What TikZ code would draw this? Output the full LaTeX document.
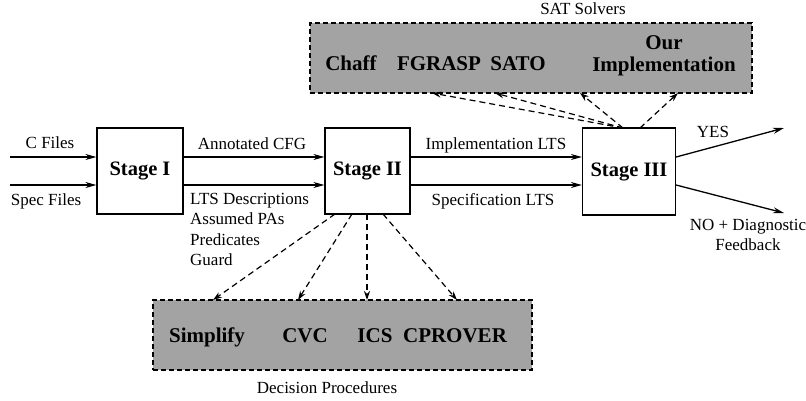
\documentclass[tikz,border=0pt]{standalone}
\usepackage{fontspec}
\setmainfont{Liberation Serif}
\usetikzlibrary{arrows.meta}
\newcommand\lblf{\fontsize{17}{20.5}\selectfont}
\newcommand\stgf{\fontsize{20.5}{24}\selectfont\bfseries}
\newcommand\toolf{\fontsize{21}{22}\selectfont\bfseries}
\tikzset{
  stagebox/.style={draw, line width=1.2pt, fill=white, inner sep=0pt, font=\stgf},
  toolbox/.style={draw, line width=1.2pt, dash pattern=on 5pt off 3pt, fill=black!36, inner sep=0pt},
  tool/.style={font=\toolf, anchor=base, inner sep=0pt},
  lbl/.style={font=\lblf, inner sep=0pt},
  flow/.style={line width=1.3pt, -{Stealth[length=11pt,width=6pt]}},
  dflow/.style={line width=1.2pt, dash pattern=on 6pt off 4pt, -{Stealth[length=9pt,width=6pt]}},
  dflowo/.style={line width=1.2pt, dash pattern=on 6pt off 4pt, -{Stealth[length=9pt,width=6pt,open]}}
}
\begin{document}
\begin{tikzpicture}[x=1pt,y=-1pt]
\useasboundingbox (0,0) rectangle (806,400);
% tool boxes
\node[toolbox, minimum width=442pt, minimum height=70pt] (sat) at (531,58) {};
\node[toolbox, minimum width=379pt, minimum height=70pt] (dp) at (342.5,335) {};
% stages
\node[stagebox, minimum width=86pt, minimum height=86pt] (s1) at (140,171) {Stage I};
\node[stagebox, minimum width=85pt, minimum height=86pt] (s2) at (367.5,171) {Stage II};
\node[stagebox, minimum width=93pt, minimum height=87pt] (s3) at (629,171.5) {Stage III};
% SAT tools
\node[tool] (chaff) at (351,70) {Chaff};
\node[tool] (fgrasp) at (439,70) {FGRASP};
\node[tool] (sato) at (518,70) {SATO};
\node[font=\toolf, align=center, inner sep=0pt] (ours) at (664,56) {Our\\Implementation};
\node[lbl] (satl) at (583,9) {SAT Solvers};
% decision procedures
\node[tool] (simp) at (207,342) {Simplify};
\node[tool] (cvc) at (305,342) {CVC};
\node[tool] (ics) at (375,342) {ICS};
\node[tool] (cprover) at (455,342) {CPROVER};
\node[lbl] (dpl) at (327,388) {Decision Procedures};
% inputs
\coordinate (cin) at (10,157);
\coordinate (sin) at (10,185);
\draw[flow] (cin) -- (cin -| s1.west);
\draw[flow] (sin) -- (sin -| s1.west);
\node[lbl] (cfl) at (50,143) {C Files};
\node[lbl] (sfl) at (46,201) {Spec Files};
% stage I -> II
\draw[flow] (s1.east |- cin) -- (s2.west |- cin);
\draw[flow] (s1.east |- sin) -- (s2.west |- sin);
\node[lbl] (acfg) at (252,144) {Annotated CFG};
\node[lbl, align=left, anchor=north west] (lts) at (190,193) {LTS Descriptions\\Assumed PAs\\Predicates\\Guard};
% stage II -> III
\draw[flow] (s2.east |- cin) -- (s3.west |- cin);
\draw[flow] (s2.east |- sin) -- (s3.west |- sin);
\node[lbl] (impl) at (496,145) {Implementation LTS};
\node[lbl] (spec) at (493,201) {Specification LTS};
% outputs
\coordinate (yes) at (784,128);
\coordinate (no) at (784,213);
\draw[flow] (s3.east |- cin) -- (yes);
\draw[flow] (s3.east |- sin) -- (no);
\node[lbl] (yesl) at (713,132) {YES};
\node[lbl, align=center] (nol) at (748,235) {NO + Diagnostic\\Feedback};
% dashed: stage III -> SAT
\coordinate (a1) at (623,128);
\coordinate (a2) at (640,128);
\coordinate (t1) at (432,93);
\coordinate (t2) at (495,93);
\coordinate (t3) at (580,93);
\coordinate (t4) at (678,93);
\draw[dflow] (a1) -- (t1);
\draw[dflow] (a1) -- (t2);
\draw[dflowo] (a1) -- (t3);
\draw[dflow] (a2) -- (t4);
% dashed: stage II -> DP
\coordinate (b1) at (335,214);
\coordinate (b2) at (352,214);
\coordinate (b3) at (367,214);
\coordinate (b4) at (383,214);
\coordinate (u1) at (213,300);
\coordinate (u2) at (298,300);
\coordinate (u3) at (367,300);
\coordinate (u4) at (457,300);
\draw[dflowo] (b1) -- (u1);
\draw[dflow] (b2) -- (u2);
\draw[dflowo] (b3) -- (u3);
\draw[dflow] (b4) -- (u4);
\end{tikzpicture}
\end{document}
